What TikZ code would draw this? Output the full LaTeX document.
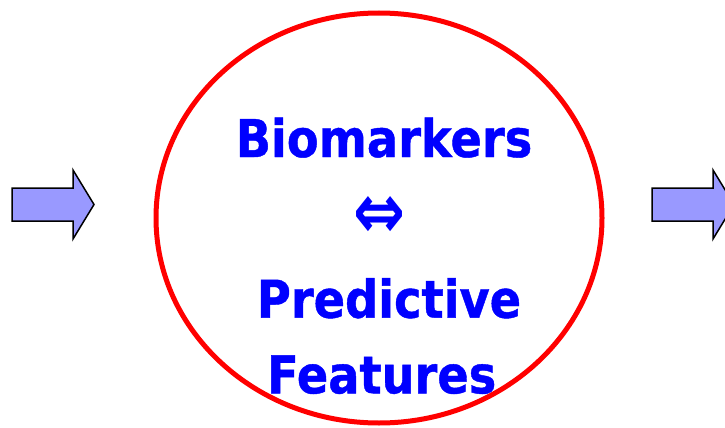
\documentclass[tikz,border=0pt]{standalone}
\usepackage{fontspec}
\setmainfont{DejaVu Sans}[FakeStretch=0.89,FakeBold=0.8]
\newfontfamily\symbolfont{DejaVu Sans}
\definecolor{termblue}{HTML}{0000FF}
\definecolor{ringred}{HTML}{FF0000}
\definecolor{arrowfill}{HTML}{9999FF}
\begin{document}
\begin{tikzpicture}[x=1pt,y=-1pt,
  term/.style={text=termblue,font=\fontsize{52}{56}\selectfont\bfseries,inner sep=0pt,anchor=base},
  ring/.style={draw=ringred,line width=5pt},
  flowarrow/.style={draw=black,line width=1.5pt,fill=arrowfill,line join=miter}]
  \clip (0,0) rectangle (725,428);
  % central concept ring
  \draw[ring] (379,218) ellipse [x radius=223, y radius=205];
  % flow arrows entering and leaving the ring
  \draw[flowarrow] (12,188) -- (73,188) -- (73,170) -- (94,204.5) -- (73,239) -- (73,221) -- (12,221) -- cycle;
  \draw[flowarrow] (652,188) -- (713,188) -- (713,170) -- (734,204.5) -- (713,239) -- (713,221) -- (652,221) -- cycle;
  % labels
  \node[term] (bio) at (384,157) {Biomarkers};
  \node[text=termblue,inner sep=0pt] (equiv) at (379,217.5)
    {\resizebox{52pt}{42pt}{\symbolfont\bfseries ⇔}};
  \node[term] (pred) at (389,317.7) {Predictive};
  \node[term] (feat) at (381.7,393.3) {Features};
\end{tikzpicture}
\end{document}
